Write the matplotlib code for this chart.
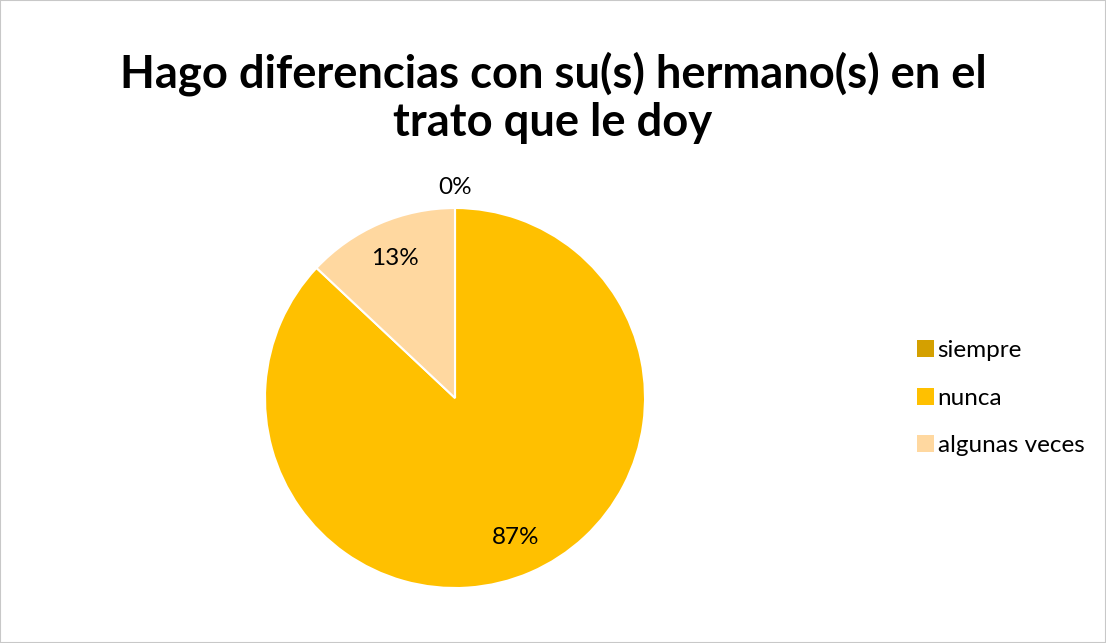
import matplotlib.pyplot as plt
from matplotlib.patches import Rectangle
import numpy as np

categories = ['siempre', 'nunca', 'algunas veces']
values = [0, 87, 13]
colors = ['#D4A000', '#FFC000', '#FFD8A0']
title = 'Hago diferencias con su(s) hermano(s) en el\ntrato que le doy'

plt.rcParams['font.family'] = ['Lato', 'DejaVu Sans']

fig = plt.figure(figsize=(11.06, 6.43), dpi=100)
fig.patches.append(Rectangle((0, 0), 1, 1, transform=fig.transFigure,
                             fill=False, edgecolor='#c8c8c8', linewidth=1.5))

ax = fig.add_axes([0.2396, 0.0855, 0.3436, 0.591])
wedges, texts, autotexts = ax.pie(values, colors=colors, startangle=90, counterclock=False,
                                  autopct='%1.0f%%', pctdistance=0.8,
                                  wedgeprops=dict(edgecolor='white', linewidth=1.5),
                                  textprops=dict(fontsize=17.5, color='#000000'))
ax.set_xlim(-1, 1)
ax.set_ylim(-1, 1)
ax.set_aspect('equal')

# zero slice label sits outside the pie
for w, t, v in zip(wedges, autotexts, values):
    if v == 0:
        ang = np.deg2rad((w.theta1 + w.theta2) / 2)
        t.set_position((1.11 * np.cos(ang), 1.11 * np.sin(ang)))

fig.text(0.5, 0.848, title, ha='center', va='center', fontsize=32.7, fontweight='bold',
         linespacing=1.16)

handles = [Rectangle((0, 0), 1, 1, facecolor=c) for c in colors]
fig.legend(handles, categories, loc='center left', bbox_to_anchor=(0.829, 0.381),
           frameon=False, fontsize=17.5, handlelength=0.7, handleheight=0.7,
           handletextpad=0.15, labelspacing=1.1, borderpad=0, borderaxespad=0)

fig.savefig('out.png', dpi=100)
